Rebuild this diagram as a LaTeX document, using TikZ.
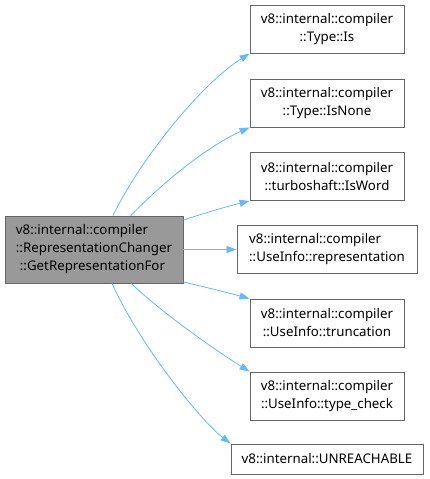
\documentclass[tikz,border=0pt]{standalone}
\usepackage{fontspec}
\setmainfont{Noto Sans}
\usetikzlibrary{arrows.meta}
\definecolor{edgeblue}{HTML}{63B8FF}
\definecolor{boxgray}{HTML}{999999}
\definecolor{linegray}{HTML}{666666}
\tikzset{
  fn/.style={draw=linegray, fill=white, line width=0.9pt, align=center,
    minimum width=154pt, minimum height=48pt, inner sep=2pt,
    font=\fontsize{13.3}{18}\selectfont},
  call/.style={draw=edgeblue, line width=0.8pt, -{Triangle[length=10pt,width=7pt]}}
}
\begin{document}
\begin{tikzpicture}[x=1pt, y=-1pt]
  \useasboundingbox (0,0) rectangle (429,479);

  % aufrufende Funktion
  \node[fn, fill=boxgray, align=left, minimum width=178pt, minimum height=67pt] (main) at (94,249.5)
    {v8::internal::compiler\\::RepresentationChanger\\\hspace{4pt}::GetRepresentationFor};

  % aufgerufene Funktionen
  \node[fn] (is)     at (327,29)    {v8::internal::compiler\\::Type::Is};
  \node[fn] (isnone) at (327,103)   {v8::internal::compiler\\::Type::IsNone};
  \node[fn] (isword) at (327,176.5) {v8::internal::compiler\\::turboshaft::IsWord};
  \node[fn, align=left, minimum width=180pt] (repr) at (327,249.5) {v8::internal::compiler\\::UseInfo::representation};
  \node[fn] (trunc)  at (327,323)   {v8::internal::compiler\\::UseInfo::truncation};
  \node[fn] (tcheck) at (327,396)   {v8::internal::compiler\\::UseInfo::type\_check};
  \node[fn, minimum width=192pt, minimum height=30pt] (unreach) at (327,459) {v8::internal::UNREACHABLE};

  % Kanten
  \draw[call] (main.north -| 113,0) .. controls (140,160) and (200,85) .. (is.south west);
  \draw[call] (main.north -| 131,0) .. controls (165,180) and (210,145) .. (isnone.south west);
  \draw[call] (main.east |- 0,220) .. controls (205,213) and (225,207) .. (isword.south west);
  \draw[call] (main.east) -- (repr.west);
  \draw[call] (main.east |- 0,282) .. controls (205,287) and (225,292) .. (trunc.north west);
  \draw[call] (main.south -| 131,0) .. controls (165,315) and (215,350) .. (tcheck.north west);
  \draw[call] (main.south -| 112,0) .. controls (140,345) and (200,420) .. (unreach.north west);
\end{tikzpicture}
\end{document}
